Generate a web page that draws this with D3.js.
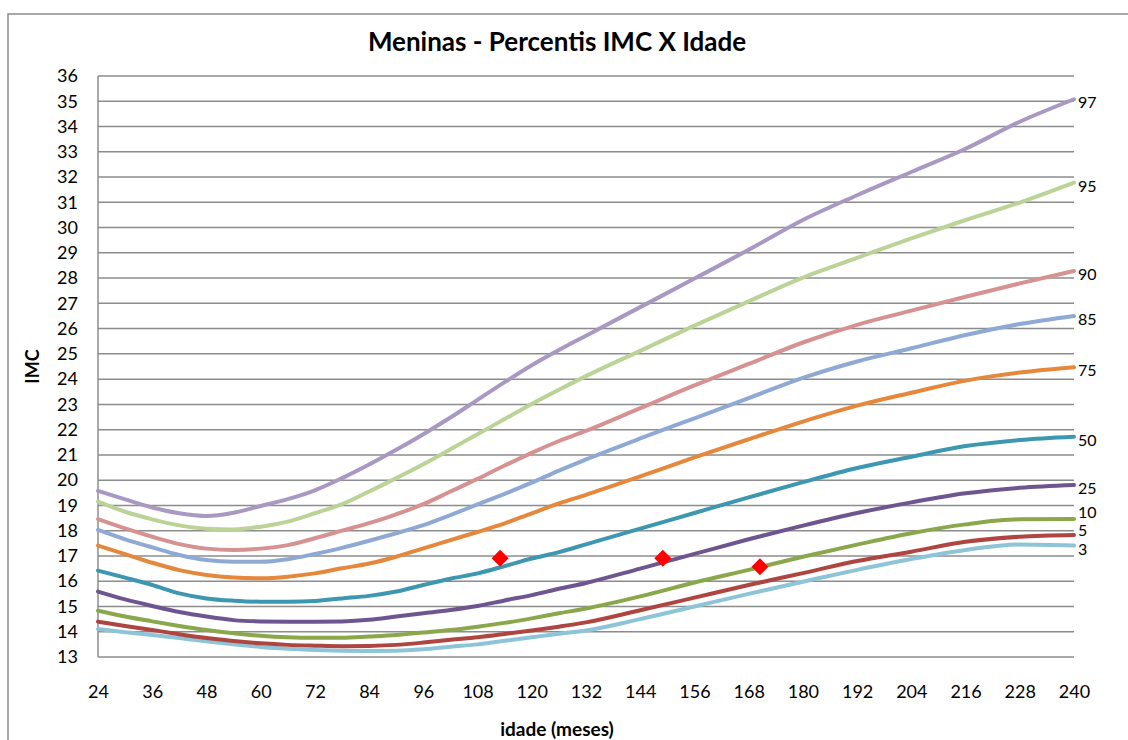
<!DOCTYPE html>
<html>
<head>
<meta charset="utf-8">
<script src="https://cdn.jsdelivr.net/npm/d3@7"></script>
<style>
  body { margin: 0; background: #fff; }
  svg { display: block; }
  text { font-family: Lato, "Open Sans", sans-serif; fill: #000; }
</style>
</head>
<body>
<svg id="chart" width="1128" height="740"></svg>
<script>
// ---------- data ----------
const ages = [24,30,36,42,48,54,60,66,72,78,84,90,96,102,108,114,120,126,132,144,156,168,180,192,204,216,228,240];
const percentileNames = ["3","5","10","25","50","75","85","90","95","97"];

const p3  = [14.11,13.98,13.87,13.75,13.62,13.50,13.40,13.33,13.28,13.25,13.24,13.25,13.31,13.41,13.50,13.64,13.78,13.92,14.05,14.50,15.00,15.50,15.98,16.45,16.88,17.24,17.45,17.41];
const p5  = [14.40,14.23,14.07,13.90,13.75,13.63,13.54,13.48,13.45,13.43,13.44,13.48,13.57,13.68,13.78,13.91,14.05,14.20,14.37,14.85,15.35,15.85,16.32,16.80,17.17,17.56,17.76,17.83];
const p10 = [14.83,14.60,14.41,14.23,14.07,13.94,13.84,13.78,13.76,13.76,13.81,13.87,13.97,14.07,14.20,14.35,14.53,14.73,14.92,15.40,15.95,16.45,16.97,17.45,17.90,18.25,18.45,18.46];
const p25 = [15.59,15.28,15.02,14.78,14.60,14.46,14.41,14.40,14.40,14.41,14.47,14.60,14.73,14.86,15.02,15.24,15.45,15.70,15.93,16.50,17.08,17.66,18.20,18.70,19.12,19.48,19.70,19.81];
const p50 = [16.42,16.14,15.85,15.52,15.32,15.23,15.19,15.19,15.22,15.32,15.42,15.59,15.85,16.10,16.31,16.60,16.90,17.15,17.46,18.08,18.70,19.32,19.92,20.48,20.93,21.35,21.59,21.72];
const p75 = [17.41,17.07,16.73,16.44,16.25,16.15,16.12,16.18,16.31,16.51,16.70,16.97,17.30,17.63,17.95,18.29,18.69,19.08,19.42,20.15,20.90,21.62,22.32,22.95,23.46,23.94,24.26,24.47];
const p85 = [18.03,17.66,17.34,17.04,16.84,16.77,16.77,16.87,17.08,17.32,17.60,17.90,18.22,18.62,19.04,19.46,19.90,20.38,20.82,21.65,22.45,23.25,24.05,24.70,25.22,25.75,26.18,26.50];
const p90 = [18.46,18.09,17.76,17.47,17.29,17.24,17.29,17.43,17.70,18.00,18.30,18.65,19.05,19.55,20.05,20.58,21.08,21.55,21.95,22.85,23.75,24.60,25.45,26.15,26.71,27.26,27.79,28.28];
const p95 = [19.15,18.75,18.45,18.21,18.08,18.05,18.16,18.36,18.69,19.05,19.55,20.08,20.63,21.22,21.82,22.42,23.02,23.58,24.12,25.12,26.12,27.08,28.02,28.80,29.57,30.30,30.99,31.78];
const p97 = [19.58,19.24,18.92,18.69,18.58,18.71,18.98,19.25,19.60,20.08,20.62,21.20,21.82,22.48,23.18,23.88,24.55,25.15,25.72,26.85,27.98,29.12,30.30,31.28,32.20,33.12,34.19,35.08];

const patientAges = [113, 149, 170.5];
const patientBMI  = [16.91, 16.91, 16.57];

const xTickValues = [24,36,48,60,72,84,96,108,120,132,144,156,168,180,192,204,216,228,240];
const yTickValues = [13,14,15,16,17,18,19,20,21,22,23,24,25,26,27,28,29,30,31,32,33,34,35,36];

const titleText = "Meninas - Percentis IMC X Idade";
const xTitle = "idade (meses)";
const yTitle = "IMC";

// ---------- styles ----------
const seriesValues = [p3,p5,p10,p25,p50,p75,p85,p90,p95,p97];
const seriesColors = ["#8EC4D8","#AE4541","#8AA84B","#6E5590","#3D97B0","#E5883C","#8EA9D4","#D59291","#BBD396","#A898C2"];

// ---------- drawing ----------
const svg = d3.select("#chart");
const plot = {left: 98, right: 1074, top: 76, bottom: 657};
const x = d3.scaleLinear().domain([24, 240]).range([plot.left, plot.right]);
const y = d3.scaleLinear().domain([13, 36]).range([plot.bottom, plot.top]);

// outer chart border (left and top visible)
svg.append("path")
  .attr("d", "M8,740 L8,14 L1128,14")
  .attr("fill", "none").attr("stroke", "#8a8a8a").attr("stroke-width", 1.5);

// gridlines
svg.append("g").selectAll("line").data(yTickValues).join("line")
  .attr("x1", plot.left).attr("x2", plot.right)
  .attr("y1", d => y(d)).attr("y2", d => y(d))
  .attr("stroke", "#8c8c8c").attr("stroke-width", 1.5);

// left axis line
svg.append("line")
  .attr("x1", plot.left).attr("x2", plot.left)
  .attr("y1", plot.top).attr("y2", plot.bottom)
  .attr("stroke", "#8c8c8c").attr("stroke-width", 1.5);

// y axis labels
const yAxis = d3.axisLeft(y).tickValues(yTickValues).tickSize(0).tickPadding(20).tickFormat(d3.format("d"));
const gy = svg.append("g").attr("transform", `translate(${plot.left},0)`).call(yAxis);
gy.select(".domain").remove();
gy.selectAll("text").style("font-size", "18px").style("font-family", "Lato, 'Open Sans', sans-serif").attr("fill", "#000");

// x axis labels
const xAxis = d3.axisBottom(x).tickValues(xTickValues).tickSize(0).tickPadding(28).tickFormat(d3.format("d"));
const gx = svg.append("g").attr("transform", `translate(0,${plot.bottom})`).call(xAxis);
gx.select(".domain").remove();
gx.selectAll("text").style("font-size", "18px").style("font-family", "Lato, 'Open Sans', sans-serif").attr("fill", "#000");

// percentile lines
const line = d3.line().x((d, i) => x(ages[i])).y(d => y(d)).curve(d3.curveMonotoneX);
svg.append("g").selectAll("path").data(seriesValues).join("path")
  .attr("d", d => line(d))
  .attr("fill", "none")
  .attr("stroke", (d, i) => seriesColors[i])
  .attr("stroke-width", 4)
  .attr("stroke-linejoin", "round")
  .attr("stroke-linecap", "round");

// end labels with simple collision avoidance (bottom-up)
const labelGap = 18.5;
const labelYs = seriesValues.map(v => y(v[v.length - 1]) + 3.5);
for (let i = 1; i < labelYs.length; i++) {
  if (labelYs[i - 1] - labelYs[i] < labelGap) labelYs[i] = labelYs[i - 1] - labelGap;
}
svg.append("g").selectAll("text").data(percentileNames).join("text")
  .attr("x", x(240) + 4)
  .attr("y", (d, i) => labelYs[i])
  .attr("dy", "0.35em")
  .style("font-size", "16px")
  .text(d => d);

// patient points (red diamonds)
const diamond = (cx, cy, r) => `M${cx},${cy - r} L${cx + r},${cy} L${cx},${cy + r} L${cx - r},${cy} Z`;
svg.append("g").selectAll("path").data(patientAges).join("path")
  .attr("d", (d, i) => diamond(x(d), y(patientBMI[i]), 8.5))
  .attr("fill", "#FF0000");

// titles
svg.append("text")
  .attr("x", 557).attr("y", 51)
  .attr("text-anchor", "middle")
  .style("font-size", "26px").style("font-weight", "bold")
  .text(titleText);

svg.append("text")
  .attr("x", 557).attr("y", 736)
  .attr("text-anchor", "middle")
  .style("font-size", "19px").style("font-weight", "bold")
  .text(xTitle);

svg.append("text")
  .attr("transform", `translate(39,${(plot.top + plot.bottom) / 2}) rotate(-90)`)
  .attr("text-anchor", "middle")
  .style("font-size", "18px").style("font-weight", "bold")
  .text(yTitle);
</script>
</body>
</html>
